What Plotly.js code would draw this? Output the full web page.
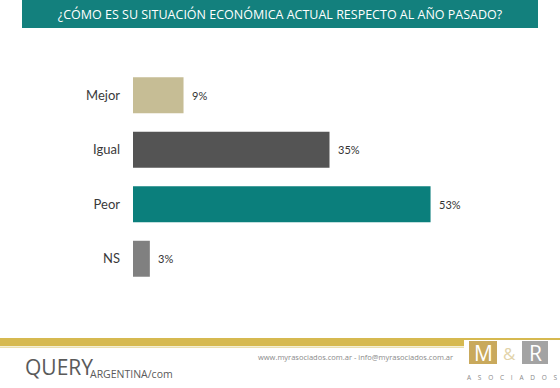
<!DOCTYPE html>
<html>
<head>
<meta charset="utf-8">
<script src="https://cdn.plot.ly/plotly-3.0.1.min.js"></script>
<style>html,body{margin:0;padding:0;background:#fff;}#chart{width:560px;height:388px;}</style>
</head>
<body>
<div id="chart"></div>
<script>
const categories = ["Mejor", "Igual", "Peor", "NS"];
const values = [9, 35, 53, 3];
const valueLabels = ["9%", "35%", "53%", "3%"];
const titleText = "¿CÓMO ES SU SITUACIÓN ECONÓMICA ACTUAL RESPECTO AL AÑO PASADO?";
const footerText = "www.myrasociados.com.ar - info@myrasociados.com.ar";

const barColors = ["#c6bd95", "#545454", "#0b7f7c", "#808080"];

const W = 560, H = 388;
const M = {l: 133, r: 34, t: 68, b: 102};
const PW = W - M.l - M.r, PH = H - M.t - M.b;
const px = x => (x - M.l) / PW;
const py = y => (H - M.b - y) / PH;

const shapes = [
  {type: "rect", xref: "paper", yref: "paper", x0: px(22), x1: px(538), y0: py(28), y1: py(0), fillcolor: "#13807d", line: {width: 0}, layer: "below"},
  {type: "rect", xref: "paper", yref: "paper", x0: px(0), x1: px(560), y0: py(346), y1: py(338), fillcolor: "#d6b950", line: {width: 0}},
  {type: "rect", xref: "paper", yref: "paper", x0: px(0), x1: px(466), y0: py(348), y1: py(346.5), fillcolor: "#eadfae", line: {width: 0}},
  {type: "rect", xref: "paper", yref: "paper", x0: px(464), x1: px(560), y0: py(388), y1: py(340), fillcolor: "#ffffff", line: {width: 0}},
  {type: "rect", xref: "paper", yref: "paper", x0: px(469), x1: px(497), y0: py(364), y1: py(341), fillcolor: "#c9a95c", line: {width: 0}},
  {type: "rect", xref: "paper", yref: "paper", x0: px(522), x1: px(548), y0: py(364), y1: py(341), fillcolor: "#a3a3a3", line: {width: 0}}
];

const annotations = categories.map((c, i) => ({
  x: values[i], y: c, xref: "x", yref: "y", text: valueLabels[i],
  showarrow: false, xanchor: "left", yanchor: "middle", xshift: 6,
  font: {family: "Lato, 'Open Sans', sans-serif", size: 11, color: "#333333"}
}));

const sp = "\u00a0\u00a0\u00a0\u00a0";
annotations.push(
  {xref: "paper", yref: "paper", x: px(455), y: py(357), text: footerText, showarrow: false, xanchor: "right", yanchor: "middle", font: {family: "'Open Sans', sans-serif", size: 7.5, color: "#8a8a8a"}},
  {xref: "paper", yref: "paper", x: px(483), y: py(353), text: "M", showarrow: false, xanchor: "center", yanchor: "middle", font: {family: "'Open Sans', sans-serif", size: 21, color: "#ffffff"}},
  {xref: "paper", yref: "paper", x: px(509.5), y: py(353), text: "&", showarrow: false, xanchor: "center", yanchor: "middle", font: {family: "'Open Sans', sans-serif", size: 17, color: "#e2d3a9"}},
  {xref: "paper", yref: "paper", x: px(535), y: py(353), text: "R", showarrow: false, xanchor: "center", yanchor: "middle", font: {family: "'Open Sans', sans-serif", size: 21, color: "#ffffff"}},
  {xref: "paper", yref: "paper", x: px(512), y: py(377), text: ["A","S","O","C","I","A","D","O","S"].join(sp), showarrow: false, xanchor: "center", yanchor: "middle", font: {family: "'Open Sans', sans-serif", size: 6.5, color: "#8a8a8a"}},
  {xref: "paper", yref: "paper", x: px(23), y: py(383), text: "QUERY", showarrow: false, xanchor: "left", yanchor: "bottom", font: {family: "'Open Sans', sans-serif", size: 21, color: "#5a5a5a"}},
  {xref: "paper", yref: "paper", x: px(88), y: py(383), text: "ARGENTINA/com", showarrow: false, xanchor: "left", yanchor: "bottom", font: {family: "'Open Sans', sans-serif", size: 10.5, color: "#5a5a5a"}}
);

const data = [{
  type: "bar", orientation: "h",
  y: categories, x: values,
  marker: {color: barColors, line: {width: 0}},
  hoverinfo: "skip"
}];

const layout = {
  width: W, height: H,
  margin: M,
  paper_bgcolor: "#ffffff", plot_bgcolor: "#ffffff",
  showlegend: false,
  bargap: 0.34,
  title: {text: titleText, x: 0.5, xref: "container", xanchor: "center", y: 1 - 14.5 / H, yref: "container", yanchor: "middle",
          font: {family: "'Open Sans', sans-serif", size: 12.5, color: "#ffffff"}},
  xaxis: {range: [0, 70], visible: false, fixedrange: true},
  yaxis: {type: "category", categoryorder: "array", categoryarray: categories, autorange: "reversed",
          showgrid: false, zeroline: false, showline: false, ticks: "", ticklabelstandoff: 12,
          tickfont: {family: "Lato, 'Open Sans', sans-serif", size: 13, color: "#3a3a3a"}},
  shapes: shapes,
  annotations: annotations
};

Plotly.newPlot("chart", data, layout, {displayModeBar: false, staticPlot: true});
</script>
</body>
</html>
